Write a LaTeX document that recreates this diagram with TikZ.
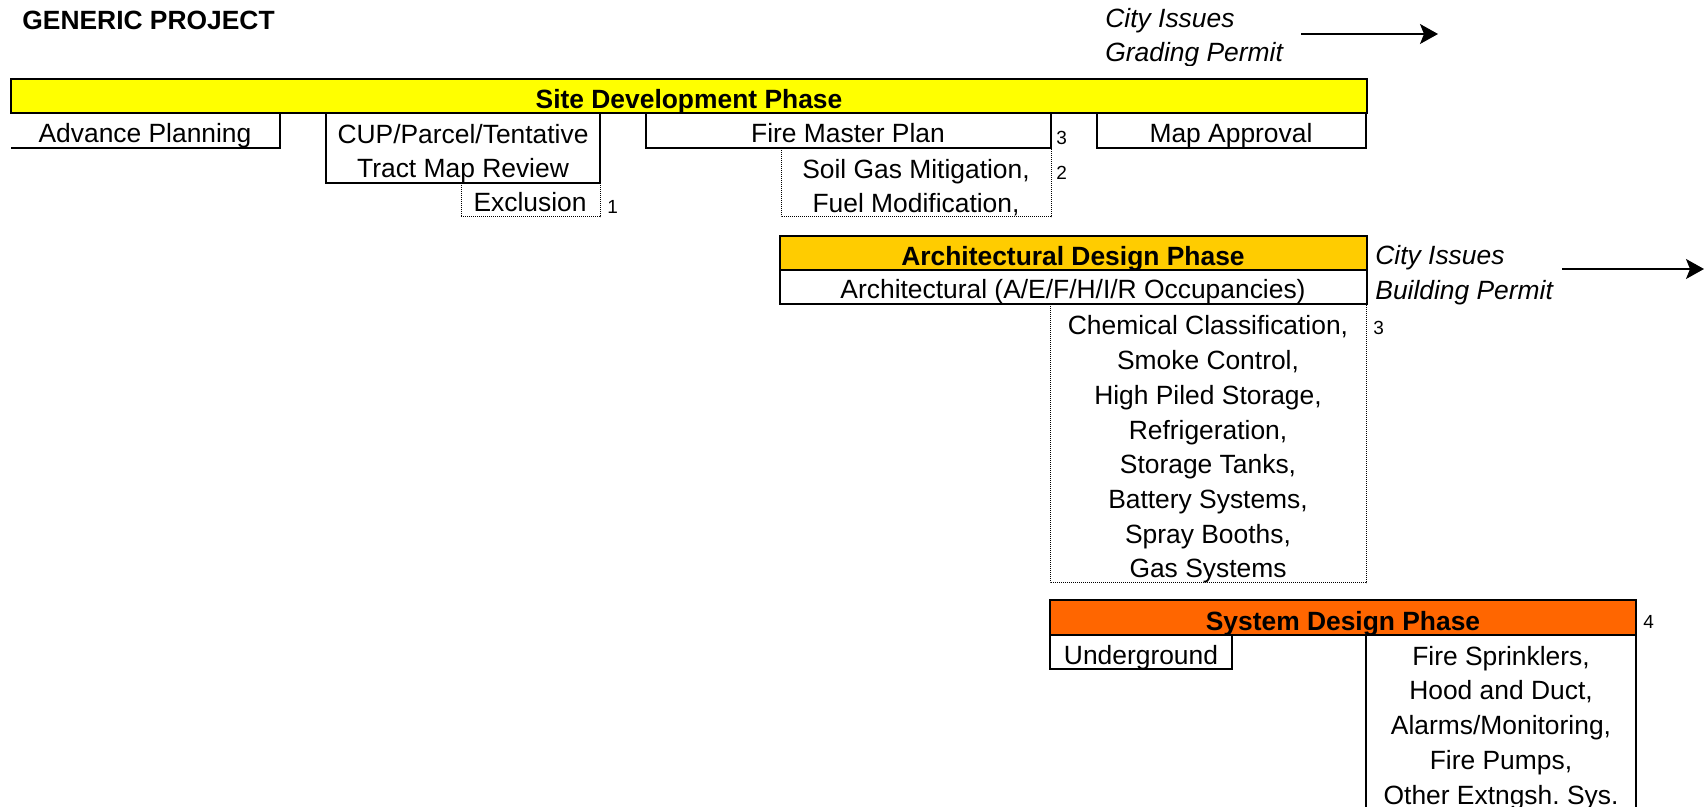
\documentclass[tikz,border=0pt]{standalone}
\usepackage{fontspec}
\setmainfont{Liberation Sans}
\usetikzlibrary{arrows.meta}
\usepackage{xcolor}
\frenchspacing

\definecolor{sitefill}{HTML}{FFFF00}
\definecolor{archfill}{HTML}{FFCC00}
\definecolor{sysfill}{HTML}{FF6600}

\tikzset{
  phasebar/.style={line width=1.3pt, draw=black},
  cellbox/.style={line width=0.6pt},
  notebox/.style={line width=0.5pt, dash pattern=on 0.5pt off 0.5pt},
  celltext/.style={font=\fontsize{13.2}{17.375}\selectfont, anchor=base, inner sep=0pt, align=center},
  phasetext/.style={celltext, font=\fontsize{13.2}{17.375}\selectfont\bfseries},
  permittext/.style={font=\fontsize{13.2}{17.375}\selectfont\itshape, anchor=base west, inner sep=0pt},
  footnum/.style={font=\fontsize{9.5}{11}\selectfont, anchor=base west, inner sep=0pt},
  permitarrow/.style={line width=0.65pt, -{Stealth[length=9pt, width=10pt, inset=2pt]}}
}

\begin{document}
\begin{tikzpicture}[x=0.5pt, y=-0.5pt]
    \useasboundingbox (0,0) rectangle (1704,807);

    % Heading and grading permit
    \node[permittext, font=\fontsize{13.2}{17.375}\selectfont\bfseries] (title) at (22,30) {GENERIC PROJECT};
    \node[permittext] (gradecity) at (1105,28) {City Issues};
    \begin{scope}
        \clip (1100,40) rectangle (1300,66);
        \node[permittext] (gradepermit) at (1105,62) {Grading Permit};
    \end{scope}
    \coordinate (gradefrom) at (1301,34);
    \coordinate (gradeto) at (1438,34);
    \draw[permitarrow] (gradefrom) -- (gradeto);

    % Site development phase (multi-line texts sit on their last baseline)
    \draw[cellbox] (11,148) -| (280,113);
    \draw[cellbox] (326,113) rectangle (600,183);
    \draw[notebox] (461,183) rectangle (600,217);
    \draw[cellbox] (646,113) rectangle (1051,148);
    \draw[notebox] (781,148) rectangle (1051,217);
    \draw[cellbox] (1097,113) rectangle (1366,148);
    \filldraw[phasebar, fill=sitefill] (11,79) rectangle (1367,113);

    \node[phasetext] (site) at (689,109) {Site Development Phase};
    \node[celltext] (advance) at (145,143) {Advance Planning};
    \node[celltext] (cup) at (463,178) {CUP/Parcel/Tentative\\Tract Map Review};
    \node[celltext] (exclusion) at (530,212) {Exclusion};
    \node[footnum] (note1) at (607,214) {1};
    \node[celltext] (firemaster) at (848,143) {Fire Master Plan};
    \node[footnum] (note3a) at (1056,145) {3};
    \node[celltext] (soilgas) at (916,213) {Soil Gas Mitigation,\\Fuel Modification,};
    \node[footnum] (note2) at (1056,180) {2};
    \node[celltext] (mapapproval) at (1231,143) {Map Approval};

    % Architectural design phase
    \draw[cellbox] (780,270) rectangle (1367,304);
    \draw[notebox] (1050,304) rectangle (1366,583);
    \filldraw[phasebar, fill=archfill] (780,236) rectangle (1367,270);

    \node[phasetext] (arch) at (1073,266) {Architectural Design Phase};
    \node[celltext] (occupancies) at (1073,299) {Architectural (A/E/F/H/I/R Occupancies)};
    \node[celltext] (chemical) at (1208,578) {Chemical Classification,\\Smoke Control,\\High Piled Storage,\\Refrigeration,\\Storage Tanks,\\Battery Systems,\\Spray Booths,\\Gas Systems};
    \node[footnum] (note3b) at (1373,335) {3};

    \node[permittext] (buildcity) at (1375,265) {City Issues};
    \node[permittext] (buildpermit) at (1375,300) {Building Permit};
    \coordinate (buildfrom) at (1562,269);
    \coordinate (buildto) at (1704,269);
    \draw[permitarrow] (buildfrom) -- (buildto);

    % System design phase
    \draw[cellbox] (1050,635) rectangle (1232,669);
    \draw[cellbox] (1366,635) -- (1366,812) (1636,635) -- (1636,812);
    \filldraw[phasebar, fill=sysfill] (1050,600) rectangle (1636,635);

    \node[phasetext] (system) at (1343,631) {System Design Phase};
    \node[footnum] (note4) at (1643,629) {4};
    \node[celltext] (underground) at (1141,664) {Underground};
    \node[celltext] (sprinklers) at (1501,804) {Fire Sprinklers,\\Hood and Duct,\\Alarms/Monitoring,\\Fire Pumps,\\Other Extngsh. Sys.};
\end{tikzpicture}
\end{document}
